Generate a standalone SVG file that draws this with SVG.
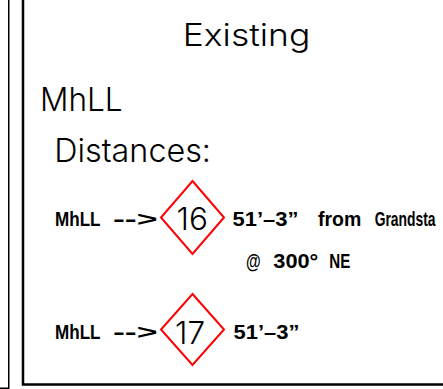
<svg xmlns="http://www.w3.org/2000/svg" width="443" height="389" viewBox="0 0 443 389">
<style>
.frame{fill:none;stroke:#000;stroke-linecap:butt}
.big{font-family:Inter,"DejaVu Sans","Liberation Sans",sans-serif;font-weight:300;fill:#000}
.small{font-family:"Liberation Sans",Arial,sans-serif;font-weight:bold;font-size:21px;fill:#000}
.dia{fill:#fff;stroke:#ff0000;stroke-width:2}
.num{font-family:Inter,"DejaVu Sans","Liberation Sans",sans-serif;font-weight:300;font-size:31.5px;fill:#000;text-anchor:middle}
</style>
<rect width="443" height="389" fill="#fff"/>
<g id="frame">
<path class="frame" d="M8.75 0V388.25M0 388.25H9.5" stroke-width="1.5"/>
<path class="frame" d="M23 0V384.5H443" stroke-width="2.5"/>
</g>
<g id="title">
<text class="big" x="182.7" y="45.7" font-size="31" textLength="127.6" lengthAdjust="spacingAndGlyphs">Existing</text>
</g>
<g id="heading">
<text class="big" x="40" y="111" font-size="32.5" textLength="82.7" lengthAdjust="spacingAndGlyphs">MhLL</text>
<text class="big" x="54.3" y="161.7" font-size="33" textLength="156.7" lengthAdjust="spacingAndGlyphs">Distances:</text>
</g>
<g id="row16">
<text class="small" x="55" y="225.5" textLength="45.5" lengthAdjust="spacingAndGlyphs">MhLL</text>
<text class="small" x="113" y="225.5" textLength="44.5" lengthAdjust="spacingAndGlyphs">--&gt;</text>
<polygon class="dia" points="192.5,181 224,217.5 192.5,254 161,217.5"/>
<text class="num" x="192.2" y="229.5">16</text>
<text class="small" x="232.5" y="226" textLength="66" lengthAdjust="spacingAndGlyphs">51’–3”</text>
<text class="small" x="318" y="226" textLength="43.3" lengthAdjust="spacingAndGlyphs">from</text>
<text class="small" transform="translate(374.7 226) scale(0.66 1)">Grandsta</text>
<text class="small" x="246" y="268.3" textLength="14.7" lengthAdjust="spacingAndGlyphs">@</text>
<text class="small" x="273.3" y="268.3" textLength="45" lengthAdjust="spacingAndGlyphs">300°</text>
<text class="small" x="329.3" y="268.3" textLength="21" lengthAdjust="spacingAndGlyphs">NE</text>
</g>
<g id="row17">
<text class="small" x="55" y="339" textLength="45.5" lengthAdjust="spacingAndGlyphs">MhLL</text>
<text class="small" x="113" y="339" textLength="44.5" lengthAdjust="spacingAndGlyphs">--&gt;</text>
<polygon class="dia" points="192.5,294 224,329.5 192.5,365 161,329.5"/>
<text class="num" x="190" y="343.5">17</text>
<text class="small" x="233.5" y="338.5" textLength="66" lengthAdjust="spacingAndGlyphs">51’–3”</text>
</g>
<g id="connectors"></g>
</svg>
